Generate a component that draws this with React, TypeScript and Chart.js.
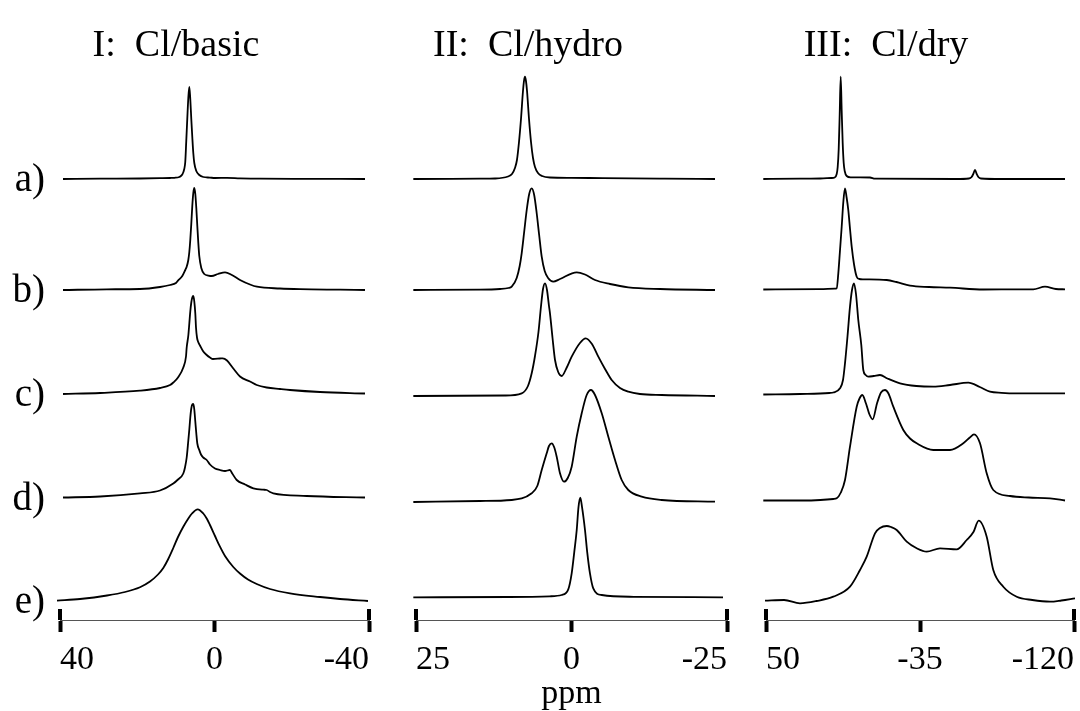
import { useEffect, useRef } from 'react';
import { Chart, registerables } from 'chart.js';

Chart.register(...registerables);

const FONT = '"Liberation Serif", "Times New Roman", Times, serif';
const W = 1080;
const H = 711;

type Pt = [number, number]; // [ppm, intensity (a.u.)]

// ---------- Panel I: Cl/basic ----------
const basicTicks = [40, 0, -40];
const basicA: Pt[] = [[39.22,0],[29.6,0.3],[19.3,0.5],[14.1,0.8],[11.5,1],[10.4,1.2],[9.12,2],[8.34,4.5],[7.83,10],[7.57,17],[7.31,38],[7.05,60],[6.78,81],[6.52,92],[6.27,80],[6.01,60],[5.75,42],[5.49,26],[5.23,16],[4.71,8],[3.94,4],[2.9,2],[1.2,1.4],[-0.13,1],[-3.24,1.2],[-6.6,0.7],[-11.8,0.3],[-22.1,0.2],[-38.96,0]];
const basicB: Pt[] = [[39.22,0],[27.9,0.7],[19.3,1],[14.1,3],[11.5,5],[9.97,7],[9.45,9.3],[8.34,14],[7.57,20],[7.2,23.3],[6.78,30],[6.52,38],[6.27,50],[6.01,66],[5.75,84],[5.49,97],[5.23,102],[4.97,96],[4.71,82],[4.45,64],[4.19,47],[3.94,34],[3.42,22],[2.64,16],[1.6,14.5],[0.72,14],[-0.9,16],[-2.72,17.7],[-4.5,15],[-6.6,10],[-9.19,5.5],[-11.0,3.3],[-16.96,1.5],[-22.14,0.8],[-32.5,0.3],[-38.96,0]];
const basicC: Pt[] = [[39.22,-0.5],[29.6,0.5],[19.3,2.8],[14.1,5.5],[11.5,8.5],[10.67,11],[9.45,16],[8.08,26],[7.38,37],[7.2,46],[6.78,58],[6.52,70],[6.27,82],[6.01,91],[5.75,96],[5.49,97.5],[5.23,92],[4.97,80],[4.79,66],[4.53,56],[4.27,52],[3.75,48],[2.9,42],[2.02,38.5],[1.17,36],[0.39,34.5],[-1.42,35],[-2.12,35.2],[-3.24,33],[-4.87,25],[-6.6,17],[-9.19,12],[-10.93,8.5],[-13.51,6],[-16.96,4.5],[-19.55,3.5],[-27.31,1.5],[-38.96,0]];
const basicD: Pt[] = [[39.22,0],[29.6,1],[19.3,4.2],[14.1,7],[10.67,14],[9.45,18],[8.08,24],[7.64,30],[7.2,40],[6.78,57],[6.52,68],[6.27,80],[6.01,89],[5.75,93],[5.49,93.5],[5.23,88],[4.97,76],[4.71,64],[4.45,54],[3.94,47.5],[3.5,43],[2.9,40],[2.02,37.5],[1.17,33],[-0.13,29],[-1.42,27.5],[-2.72,26.5],[-4.01,27.5],[-4.6,24],[-5.75,17.5],[-7.9,13],[-10.05,9.2],[-12.6,7.8],[-13.51,7.5],[-14.37,5.5],[-15.22,4.2],[-23.87,1.5],[-38.96,0]];
const basicE: Pt[] = [[40.78,0.3],[34.82,2],[27.83,5.5],[23.17,9],[19.29,13.8],[16.7,19.5],[14.63,26.5],[13.26,33],[12.04,41.5],[10.67,53],[9.45,64],[8.08,74.3],[6.86,82],[5.83,87.5],[4.35,91.7],[2.9,87.5],[1.94,82],[1.17,76],[-0.13,65],[-1.42,54.3],[-2.72,45],[-4.87,34],[-6.6,27.5],[-8.67,21.5],[-10.93,17],[-14.37,12],[-19.55,7.7],[-27.31,4],[-32.49,2],[-39.74,0]];

// ---------- Panel II: Cl/hydro ----------
const hydroTicks = [25, 0, -25];
const hydroA: Pt[] = [[25.43,0],[14.7,0.3],[12.3,0.5],[10.21,2.5],[9.57,5],[9.09,11],[8.77,19],[8.44,37],[8.12,60],[7.8,88],[7.64,98],[7.48,102.3],[7.32,98],[7.15,88],[6.83,60],[6.51,37],[6.19,21],[5.87,12],[5.39,6],[4.74,3],[3.46,1.5],[0,1.2],[-5,0.8],[-15,0.3],[-23.07,0]];
const hydroB: Pt[] = [[25.43,0],[14.71,0.3],[11.5,1],[10.16,2],[9.61,3.3],[8.81,12],[8.33,24],[8.01,36.7],[7.61,58],[7.2,80],[6.8,96],[6.4,101.7],[6.0,95],[5.6,77],[5.2,55],[4.79,33.3],[4.31,19],[3.73,11.7],[2.93,8.3],[1.85,11],[-0.84,17.7],[-2.17,15.5],[-3.78,10],[-6.19,6],[-9.13,2.7],[-14.23,1],[-23.07,0]];
const hydroC: Pt[] = [[25.43,0],[10.7,0.5],[8.01,2.7],[7.0,10],[6.4,22.7],[5.87,40],[5.31,64],[4.9,90],[4.58,107],[4.26,112.7],[3.94,106],[3.62,90],[3.46,82.7],[3.05,58],[2.65,36],[2.14,24],[1.58,20],[0.8,28],[-0.03,39.3],[-1.36,53],[-2.28,57.7],[-3.29,52],[-4.31,39.3],[-5.39,27],[-6.46,16],[-7.8,8],[-9.13,4.3],[-11.0,2],[-14.5,1],[-23.07,0]];
const hydroD: Pt[] = [[25.43,0],[14.71,1],[9.61,2],[6.4,8.7],[5.5,16],[4.79,32],[3.99,48.7],[3.62,56],[3.18,58.7],[2.8,55],[2.38,45.3],[1.85,28.7],[1.21,20.3],[0.6,24],[-0.03,35.3],[-0.84,65.3],[-1.64,88.7],[-2.44,107],[-3.13,112],[-3.78,107],[-4.86,88.7],[-5.92,65.3],[-7.0,42],[-8.07,22],[-9.13,12],[-11.29,5.3],[-14.5,2],[-23.07,0.3]];
const hydroE: Pt[] = [[25.43,0],[10,0.3],[3.5,1],[1.58,2.3],[0.52,8],[-0.03,24],[-0.44,45],[-0.84,67.3],[-1.12,90],[-1.41,99.6],[-1.7,90],[-2.17,67.3],[-2.53,45],[-2.97,24],[-3.5,9],[-4.86,2.3],[-10,0.5],[-24.36,0]];

// ---------- Panel III: Cl/dry ----------
const dryTicks = [50, -35, -120];
const dryA: Pt[] = [[51.49,0],[31,0.3],[20,0.5],[14,1],[12.08,1.5],[10.98,5],[10.43,12],[9.87,30],[9.32,65],[8.77,102.3],[8.22,68],[7.67,36],[7.11,16],[6.56,8],[5.46,3],[3.25,1.7],[-7.4,1.5],[-10.16,0.3],[-55,0],[-62,0.5],[-63.5,2],[-64.4,5],[-65.36,9],[-66.3,5],[-67.2,2],[-68.6,0.5],[-80,0],[-115.03,0]];
const dryB: Pt[] = [[51.49,0],[20,0.3],[12,0.8],[10.98,1.2],[10.09,16.2],[9.2,38],[8.22,62.8],[7.3,88],[6.4,101.2],[5.5,92],[4.58,79.5],[3.6,60],[2.7,42.8],[1.4,25],[-0.06,12.8],[-1.5,10.5],[-3.7,10.2],[-16.62,9.5],[-22,7.5],[-29.48,3.8],[-40,2.5],[-51.56,1.8],[-69.94,0],[-90,0.2],[-97.53,0.2],[-103.99,2.8],[-110,0.5],[-115.03,0.2]];
const dryC: Pt[] = [[51.49,-0.5],[31.23,0],[15,1],[12.85,1.5],[9.16,5.7],[7.5,14],[6.4,30.7],[5.0,58],[3.64,87.3],[2.53,104],[1.43,110.7],[0.33,100],[-0.94,74],[-2.6,49],[-3.7,24],[-5.0,19],[-6.46,17.3],[-9.5,18],[-12.92,19],[-17,15.5],[-23.96,10.7],[-33,8],[-42.34,7.3],[-51.56,9],[-61.66,11.3],[-68,7],[-73.63,2.3],[-80,1.2],[-88.37,0.7],[-115.03,0.7]];
const dryD: Pt[] = [[51.49,0],[30,0],[20,0.5],[12.85,1.5],[10.98,2.2],[8.7,8],[6.4,20.5],[3.64,53.8],[-0.06,93.8],[-1.61,102],[-3.15,105.5],[-5.19,97],[-7.12,86],[-8.89,81.2],[-11.26,97],[-13.47,108],[-15.68,110.5],[-17.6,107],[-20.26,93.8],[-25.78,70.5],[-29.5,62],[-33.18,57.2],[-42.34,50.5],[-51.56,50.5],[-58.9,57.2],[-62.5,63],[-64.8,66.2],[-68.12,57.2],[-71.81,27.2],[-75.45,10.5],[-84.67,4.5],[-95,3],[-106.75,2.2],[-115.03,0]];
const dryE: Pt[] = [[50.55,-0.7],[40,0],[31.23,-3.3],[22,-1],[12.85,3.3],[3.64,13.3],[-1.88,30],[-5.58,43.3],[-10.16,66.7],[-12.92,72],[-16.62,74],[-19,73],[-22.14,70],[-27.66,58.3],[-33.18,51.7],[-38.7,48.3],[-46.04,51.7],[-55.26,50.7],[-60.78,60],[-64.5,68],[-67.4,79.3],[-71.81,63.3],[-75.45,30],[-80.97,13.3],[-88.37,3.3],[-97,0],[-106.75,-1.7],[-113,-0.5],[-120.55,1.7]];

const rowLabels = ['a)', 'b)', 'c)', 'd)', 'e)'];

interface PanelSpec {
  title: string;
  titleX: number;
  ticks: number[];
  traces: Pt[][];
  offsets: number[];
  left: number;
  right: number;
  axisTitle?: string;
  showRows?: boolean;
}

const panels: PanelSpec[] = [
  { title: 'I:  Cl/basic', titleX: 176, ticks: basicTicks, traces: [basicA, basicB, basicC, basicD, basicE], offsets: [441, 330, 226.5, 122.5, 19], left: 60, right: 369, showRows: true },
  { title: 'II:  Cl/hydro', titleX: 528, ticks: hydroTicks, traces: [hydroA, hydroB, hydroC, hydroD, hydroE], offsets: [441, 330, 224, 118, 22.7], left: 416, right: 727, axisTitle: 'ppm' },
  { title: 'III:  Cl/dry', titleX: 886, ticks: dryTicks, traces: [dryA, dryB, dryC, dryD, dryE], offsets: [441, 330.5, 226, 119.5, 20], left: 766, right: 1074 },
];

const PLOT_TOP = 60;
const PLOT_BOTTOM = 620;
const AXIS_BAND = H - PLOT_BOTTOM;

// Title, row labels and the raised end caps of the ppm axis
const decorations = {
  id: 'decorations',
  afterDraw(chart: any, _args: any, opts: any) {
    const { ctx, chartArea, scales } = chart;
    const xs = scales.x;
    const ys = scales.y;
    ctx.save();
    ctx.fillStyle = '#000';
    for (const v of [xs.min, xs.max]) {
      const px = Math.round(xs.getPixelForValue(v));
      ctx.fillRect(px - 2, chartArea.bottom - 11, 4, 11);
    }
    ctx.font = `38px ${FONT}`;
    ctx.textAlign = 'center';
    ctx.textBaseline = 'alphabetic';
    ctx.fillText(opts.title, opts.titleX, 56);
    if (opts.showRows) {
      ctx.font = `39px ${FONT}`;
      ctx.textAlign = 'right';
      ctx.textBaseline = 'middle';
      rowLabels.forEach((label: string, i: number) => {
        ctx.fillText(label, chartArea.left - 15, ys.getPixelForValue(opts.offsets[i]) + 2);
      });
    }
    ctx.restore();
  },
};

function Panel({ spec }: { spec: PanelSpec }) {
  const ref = useRef<HTMLCanvasElement | null>(null);
  useEffect(() => {
    if (!ref.current) return;
    const sorted = [...spec.ticks].sort((a, b) => a - b);
    const datasets = spec.traces.map((trace, i) => ({
      data: trace.map(([ppm, v]) => ({ x: ppm, y: spec.offsets[i] + v })),
      borderColor: '#000',
      borderWidth: 1.8,
      pointRadius: 0,
      fill: false,
      cubicInterpolationMode: 'monotone' as const,
      clip: false as const,
    }));
    const chart = new Chart(ref.current, {
      type: 'line',
      data: { datasets },
      options: {
        animation: false,
        responsive: false,
        maintainAspectRatio: false,
        events: [],
        layout: { padding: { left: spec.left, right: W - spec.right, top: PLOT_TOP, bottom: 0 } },
        plugins: {
          legend: { display: false },
          tooltip: { enabled: false },
          decorations: { title: spec.title, titleX: spec.titleX, offsets: spec.offsets, showRows: !!spec.showRows },
        } as any,
        scales: {
          x: {
            type: 'linear',
            reverse: true,
            min: sorted[0],
            max: sorted[sorted.length - 1],
            afterBuildTicks: (scale: any) => {
              scale.ticks = sorted.map((value) => ({ value }));
            },
            afterFit: (scale: any) => {
              scale.height = AXIS_BAND;
            },
            border: { display: true, color: '#555', width: 1 },
            grid: { display: true, drawOnChartArea: false, drawTicks: true, tickLength: 12, tickWidth: 4, tickColor: '#000' },
            ticks: {
              align: 'inner',
              autoSkip: false,
              maxRotation: 0,
              padding: 8,
              color: '#000',
              font: { family: FONT, size: 34 },
              callback: (value: any) => String(value),
            },
            title: {
              display: !!spec.axisTitle,
              text: spec.axisTitle || '',
              color: '#000',
              font: { family: FONT, size: 34, lineHeight: 1 },
              padding: { top: 0, bottom: 0 },
            },
          },
          y: { type: 'linear', display: false, min: 0, max: PLOT_BOTTOM - PLOT_TOP },
        },
      },
      plugins: [decorations],
    });
    return () => chart.destroy();
  }, [spec]);
  return (
    <canvas
      ref={ref}
      width={W}
      height={H}
      style={{ position: 'absolute', left: 0, top: 0, width: W, height: H }}
    />
  );
}

export default function App() {
  return (
    <div style={{ position: 'fixed', left: 0, top: 0, width: W, height: H, background: '#fff', overflow: 'hidden' }}>
      {panels.map((p) => (
        <Panel key={p.title} spec={p} />
      ))}
    </div>
  );
}
